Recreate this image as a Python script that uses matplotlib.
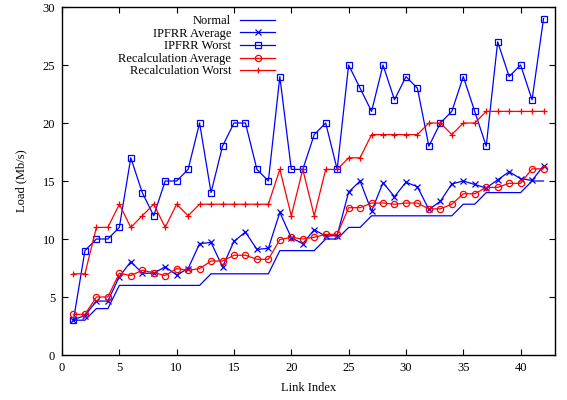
import matplotlib
matplotlib.use("Agg")
import matplotlib.pyplot as plt

link_index = list(range(1, 43))

normal = [3, 3, 4, 4, 6, 6, 6, 6, 6, 6, 6, 6, 7, 7, 7, 7, 7, 7, 9, 9, 9, 9,
          10, 10, 11, 11, 12, 12, 12, 12, 12, 12, 12, 12, 13, 13, 14, 14, 14, 14, 15, 15]

ipfrr_avg = [3.05, 3.4, 4.65, 4.65, 6.75, 8.05, 7.05, 7.05, 7.6, 6.9, 7.45, 9.6, 9.7, 7.6,
             9.8, 10.6, 9.1, 9.2, 12.3, 10.1, 9.6, 10.8, 10.25, 10.3, 14.05, 15.0, 12.4,
             14.85, 13.65, 14.9, 14.5, 12.55, 13.25, 14.75, 15.0, 14.7, 14.4, 15.1, 15.8,
             15.2, 15.05, 16.3]

ipfrr_worst = [3, 9, 10, 10, 11, 17, 14, 12, 15, 15, 16, 20, 14, 18, 20, 20, 16, 15, 24,
               16, 16, 19, 20, 16, 25, 23, 21, 25, 22, 24, 23, 18, 20, 21, 24, 21, 18, 27,
               24, 25, 22, 29]

recalc_avg = [3.5, 3.5, 5.0, 5.0, 7.05, 6.85, 7.3, 7.1, 6.85, 7.45, 7.3, 7.45, 8.1, 8.1,
              8.6, 8.6, 8.25, 8.25, 9.95, 10.15, 10.0, 10.15, 10.4, 10.4, 12.7, 12.7, 13.1,
              13.1, 13.0, 13.1, 13.1, 12.6, 12.6, 13.0, 13.9, 13.9, 14.45, 14.45, 14.8,
              14.8, 16.05, 16.05]

recalc_worst = [7, 7, 11, 11, 13, 11, 12, 13, 11, 13, 12, 13, 13, 13, 13, 13, 13, 13, 16,
                12, 16, 12, 16, 16, 17, 17, 19, 19, 19, 19, 19, 20, 20, 19, 20, 20, 21, 21,
                21, 21, 21, 21]

x_ticks = [0, 5, 10, 15, 20, 25, 30, 35, 40]
y_ticks = [0, 5, 10, 15, 20, 25, 30]

plt.rcParams['font.family'] = ['Liberation Serif', 'DejaVu Serif']
plt.rcParams['font.size'] = 9

fig = plt.figure(figsize=(5.67, 4.0), dpi=100)
ax = fig.add_axes([62/567, 45/400, (555-62)/567, (355-7)/400])

lw = 0.9
blue = '#0000ff'
red = '#ff0000'

ax.plot(link_index, normal, color=blue, lw=lw, label='Normal')
ax.plot(link_index, ipfrr_avg, color=blue, lw=lw, marker='x', ms=4.5, mew=0.9,
        label='IPFRR Average')
ax.plot(link_index, ipfrr_worst, color=blue, lw=lw, marker='s', ms=5, mew=0.9,
        mfc='none', label='IPFRR Worst')
ax.plot(link_index, recalc_avg, color=red, lw=lw, marker='o', ms=4.5, mew=0.9,
        mfc='none', label='Recalculation Average')
ax.plot(link_index, recalc_worst, color=red, lw=lw, marker='+', ms=5, mew=0.9,
        label='Recalculation Worst')

ax.set_xlim(0, 43)
ax.set_ylim(0, 30)
ax.set_xticks(x_ticks)
ax.set_yticks(y_ticks)
ax.tick_params(direction='in', top=True, right=True, length=4, width=0.8, pad=5)
for s in ax.spines.values():
    s.set_linewidth(1.0)

ax.set_xlabel('Link Index', labelpad=6)
ax.set_ylabel('Load (Mb/s)', labelpad=11)

leg = ax.legend(loc='upper right', bbox_to_anchor=((280-62)/493, (355-10)/348),
                frameon=False, markerfirst=False, handlelength=2.8, handletextpad=0.7,
                labelspacing=0.05, borderaxespad=0, fontsize=9)
for t in leg.get_texts():
    t.set_ha('right')
leg._legend_box.align = 'right'

fig.savefig('out.png', dpi=100)
